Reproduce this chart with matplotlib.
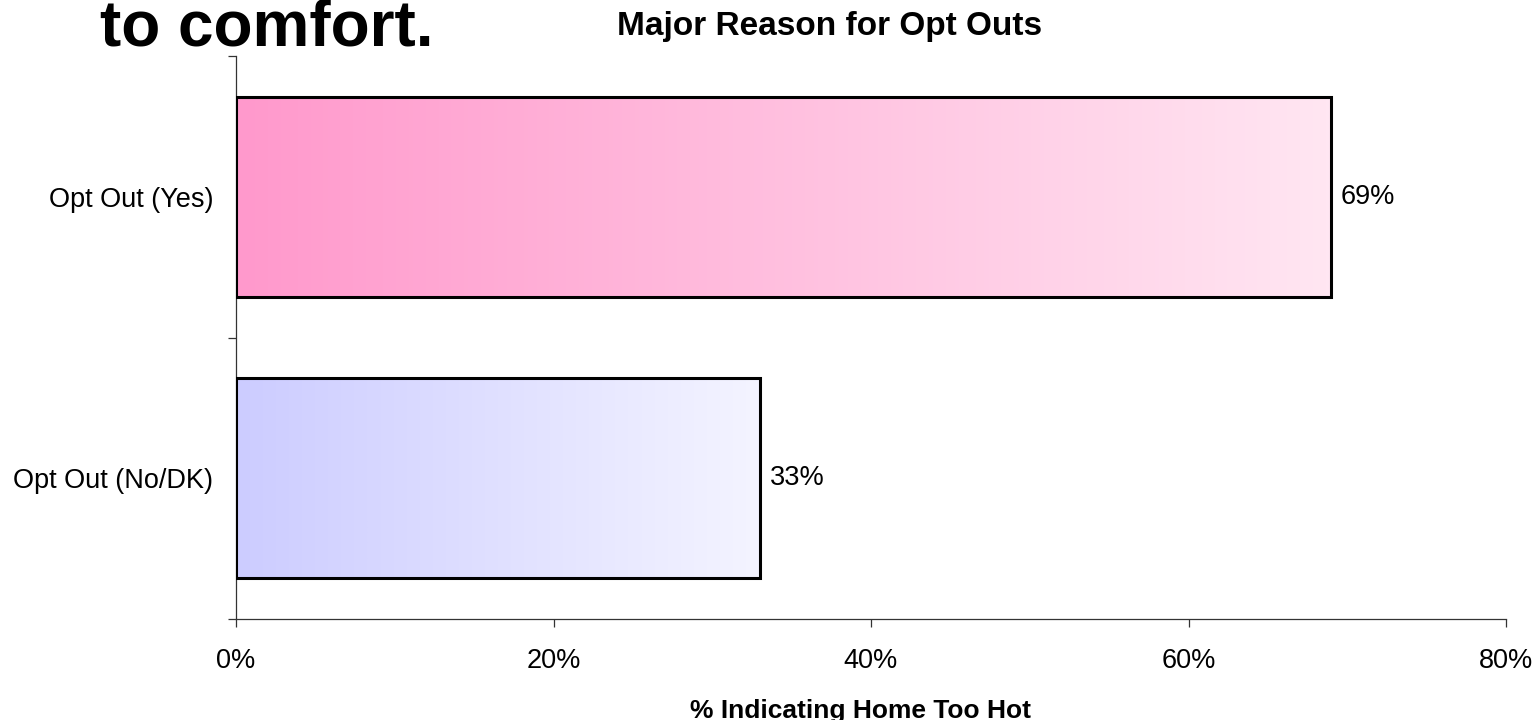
import numpy as np
import matplotlib
matplotlib.use('Agg')
import matplotlib.pyplot as plt
from matplotlib.colors import LinearSegmentedColormap

plt.rcParams['font.family'] = ['Liberation Sans', 'DejaVu Sans']

# Datos
categorias = ['Opt Out (No/DK)', 'Opt Out (Yes)']
valores = [33, 69]  # % que indica casa demasiado caliente
color_ini = ['#CCCCFF', '#FF99CC']
color_fin = ['#F4F4FF', '#FFE6F2']
xticks = [0, 20, 40, 60, 80]

fig = plt.figure(figsize=(15.38, 7.2), dpi=100)
ax = fig.add_axes([236 / 1538, 1 - 619 / 720, (1506 - 236) / 1538, (619 - 56) / 720])

pos = np.arange(len(categorias))
barras = ax.barh(pos, valores, height=0.71, facecolor='none',
                 edgecolor='black', linewidth=2.2, zorder=3)

# Relleno degradado de cada barra
grad = np.linspace(0, 1, 256).reshape(1, -1)
for barra, c0, c1 in zip(barras, color_ini, color_fin):
    cmap = LinearSegmentedColormap.from_list('deg', [c0, c1])
    x0, y0 = barra.get_x(), barra.get_y()
    w, h = barra.get_width(), barra.get_height()
    ax.imshow(grad, cmap=cmap, extent=[x0, x0 + w, y0, y0 + h],
              aspect='auto', zorder=2, interpolation='bilinear')

for p, v in zip(pos, valores):
    ax.annotate(f'{v}%', xy=(v, p), xytext=(7, 0), textcoords='offset points',
                va='center', ha='left', fontsize=19.5)

ax.set_xlim(0, 80)
ax.set_ylim(-0.5, 1.5)
ax.set_xticks(xticks)
ax.set_xticklabels([f'{t}%' for t in xticks], fontsize=19.5)
ax.set_yticks(pos)
ax.set_yticklabels(categorias, fontsize=19.5)
ax.set_yticks([-0.5, 0.5, 1.5], minor=True)
ax.tick_params(axis='y', which='major', length=0, pad=16.5)
ax.tick_params(axis='y', which='minor', length=6, width=0.9, color='#333333', direction='out')
ax.tick_params(axis='x', length=6, width=0.9, color='#333333', direction='out', pad=15)

for lado in ['top', 'right']:
    ax.spines[lado].set_visible(False)
for lado in ['left', 'bottom']:
    ax.spines[lado].set_color('#333333')
    ax.spines[lado].set_linewidth(0.9)

fig.text(830 / 1538, 1 - 35 / 720, 'Major Reason for Opt Outs',
         ha='center', va='baseline', fontsize=24, fontweight='bold')
fig.text(861 / 1538, 2 / 720, '% Indicating Home Too Hot',
         ha='center', va='baseline', fontsize=19, fontweight='bold')
fig.text(100 / 1538, 1 - 45 / 720, 'to comfort.',
         ha='left', va='baseline', fontsize=46, fontweight='bold')

fig.savefig('out.png', dpi=100)
